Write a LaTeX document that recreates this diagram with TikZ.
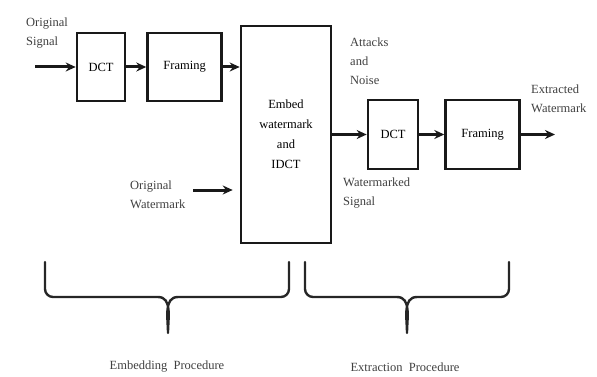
\documentclass[tikz,border=0pt]{standalone}
\usepackage{fontspec}
\setmainfont{Liberation Serif}
\usetikzlibrary{arrows.meta, positioning, calc}

\begin{document}
\begin{tikzpicture}[
    x=1pt, y=-1pt,
    font=\rmfamily\fontsize{12.5}{19}\selectfont,
    blk/.style={draw=black!90, line width=2.6pt, align=center, inner sep=2pt},
    fl/.style={-{Stealth[length=10pt, width=9pt]}, line width=3pt, black!90},
    brc/.style={line width=2.4pt, black!85, line cap=round, line join=round},
    lab/.style={align=left, inner sep=0pt, anchor=west, black!75},
    plab/.style={inner sep=0pt, black!75}
  ]
    \useasboundingbox (0,0) rectangle (597,377);
    % ---- embedding side ----
    \node[blk, minimum width=48pt, minimum height=68pt] (dct1) at (101,67) {DCT};
    \node[blk, minimum width=74pt, minimum height=68pt, right=20pt of dct1] (frame1) {Framing};
    \node[blk, minimum width=90pt, minimum height=217pt] (embed) at (286,134.5)
      {Embed\\[1pt]watermark\\[1pt]and\\[1pt]IDCT};
    \node[lab] (osig) at (26,33.5) {Original\\Signal};
    \node[lab] (owm) at (130,195) {Original\\Watermark};
    \coordinate (sigin) at (35,67);
    \coordinate (wmin) at (193,190);
    % ---- extraction side ----
    \node[blk, minimum width=50pt, minimum height=69pt] (dct2) at (393,134.5) {DCT};
    \node[blk, minimum width=74pt, minimum height=69pt, right=25pt of dct2] (frame2) {Framing};
    \node[lab] (atk) at (350,61) {Attacks\\and\\Noise};
    \node[lab] (wsig) at (343,193) {Watermarked\\Signal};
    \node[lab] (exwm) at (531,99) {Extracted\\Watermark};
    \coordinate (wmout) at (555,134.5);
    % ---- arrows ----
    \draw[fl] (sigin) -- (dct1.west);
    \draw[fl] (dct1.east) -- (frame1.west);
    \draw[fl] (frame1.east) -- (frame1.east -| embed.west);
    \draw[fl] (wmin) -- ([xshift=-7pt]wmin -| embed.west);
    \draw[fl] (embed.east) -- (dct2.west);
    \draw[fl] (dct2.east) -- (frame2.west);
    \draw[fl] (frame2.east) -- (wmout);
    % ---- braces ----
    \draw[brc] (45,262) -- (45,289) to[out=-90,in=180] (53,297) -- (158,297)
      to[out=0,in=90] (168,333) to[out=90,in=180] (178,297) -- (281,297)
      to[out=0,in=-90] (289,289) -- (289,262);
    \draw[brc] (305,262) -- (305,289) to[out=-90,in=180] (313,297) -- (397,297)
      to[out=0,in=90] (407,333) to[out=90,in=180] (417,297) -- (501,297)
      to[out=0,in=-90] (509,289) -- (509,262);
    \node[plab] (embproc) at (167,367) {Embedding\ \ Procedure};
    \node[plab] (extproc) at (405,367) {Extraction\ \ Procedure};
  \end{tikzpicture}
\end{document}
